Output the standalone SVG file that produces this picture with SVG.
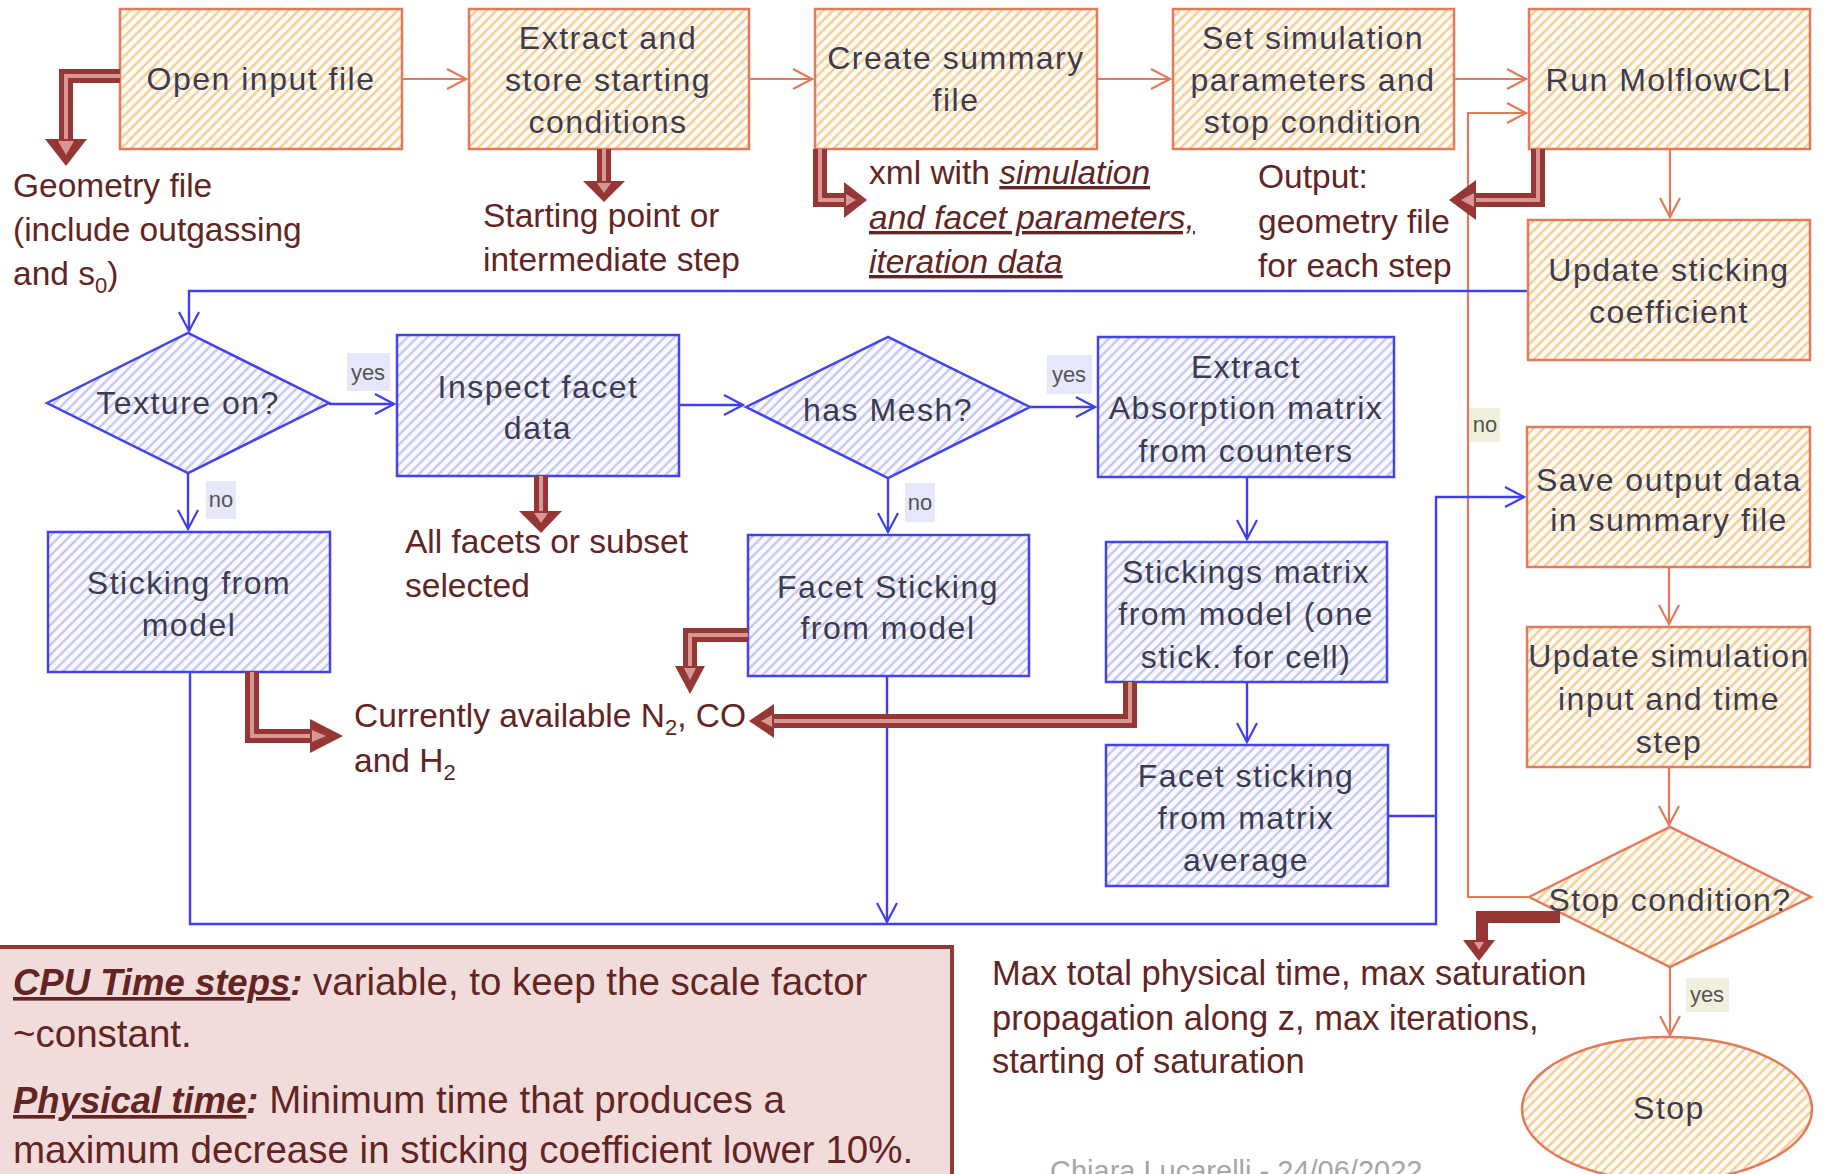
<svg xmlns="http://www.w3.org/2000/svg" width="1824" height="1174" viewBox="0 0 1824 1174">
<defs>
<pattern id="hO" width="7" height="7" patternUnits="userSpaceOnUse" patternTransform="rotate(45)">
<rect width="7" height="7" fill="#fffdf8"/>
<line x1="1.5" y1="0" x2="1.5" y2="7" stroke="#f6c78a" stroke-width="2.2"/>
</pattern>
<pattern id="hB" width="7" height="7" patternUnits="userSpaceOnUse" patternTransform="rotate(45)">
<rect width="7" height="7" fill="#fbfbff"/>
<line x1="1.5" y1="0" x2="1.5" y2="7" stroke="#b9bbf6" stroke-width="2"/>
</pattern>
<marker id="aO" viewBox="0 0 24 24" refX="22" refY="12" markerWidth="24" markerHeight="24" markerUnits="userSpaceOnUse" orient="auto">
<path d="M3,2 L22,12 L3,22" fill="none" stroke="#e57a5b" stroke-width="2.2"/>
</marker>
<marker id="aB" viewBox="0 0 24 24" refX="22" refY="12" markerWidth="24" markerHeight="24" markerUnits="userSpaceOnUse" orient="auto">
<path d="M3,2 L22,12 L3,22" fill="none" stroke="#3f3ff2" stroke-width="2.2"/>
</marker>
<style>
.no{fill:url(#hO);stroke:#e57a5b;stroke-width:2.5}
.nb{fill:url(#hB);stroke:#4343f0;stroke-width:2.5}
.t{font-family:"Liberation Sans",Arial,sans-serif;font-size:32px;fill:#3c3c4e;text-anchor:middle;letter-spacing:1.5px}
.co{fill:none;stroke:#e57a5b;stroke-width:2.2;marker-end:url(#aO)}
.cb{fill:none;stroke:#3f3ff2;stroke-width:2.4;marker-end:url(#aB)}
.cbn{fill:none;stroke:#3f3ff2;stroke-width:2.4}
.lab{font-family:"Liberation Sans",Arial,sans-serif;font-size:33.5px;fill:#632523}
.lab2{font-size:34.5px}
.big{font-family:"Liberation Sans",Arial,sans-serif;font-size:38.5px;fill:#632523}
.bi{font-weight:bold;font-style:italic;font-size:36.5px}
.iu{font-style:italic;text-decoration:underline}
.yn{font-family:"Liberation Sans",Arial,sans-serif;font-size:22px;fill:#555;text-anchor:middle}
.ybB{fill:#e6e7fb}
.ybO{fill:#f1f0dc}
.sh{fill:none;stroke:#953735;stroke-width:14;stroke-linejoin:miter}
.shi{fill:none;stroke:#d99694;stroke-width:4;stroke-linejoin:miter}
.hd{fill:#953735}
.hdi{fill:#d99694}
</style>
</defs>
<rect width="1824" height="1174" fill="#ffffff"/>

<g id="connectors">
<path class="co" d="M402,79 H466"/>
<path class="co" d="M749,79 H812"/>
<path class="co" d="M1097,79 H1170"/>
<path class="co" d="M1454,79 H1526"/>
<path class="co" d="M1529,897 H1468 V113 H1526"/>
<path class="co" d="M1670,149 V217"/>
<path class="co" d="M1669,567 V624"/>
<path class="co" d="M1669,767 V825"/>
<path class="co" d="M1670,967 V1035"/>
<path class="cb" d="M1528,291 H189 V331"/>
<path class="cb" d="M329,404 H394"/>
<path class="cb" d="M188,473 V529"/>
<path class="cb" d="M679,405 H743"/>
<path class="cb" d="M1030,407 H1095"/>
<path class="cb" d="M888,478 V532"/>
<path class="cb" d="M1247,477 V539"/>
<path class="cb" d="M1247,682 V742"/>
<path class="cb" d="M190,672 V924 H1436 V497 H1524"/>
<path class="cb" d="M887,676 V922"/>
<path class="cbn" d="M1388,816 H1436"/>
<rect class="ybB" x="347" y="353" width="43" height="38"/>
<text class="yn" x="368" y="380">yes</text>
<rect class="ybB" x="206" y="481" width="30" height="38"/>
<text class="yn" x="221" y="507">no</text>
<rect class="ybB" x="1047" y="355" width="45" height="39"/>
<text class="yn" x="1069" y="382">yes</text>
<rect class="ybB" x="905" y="483" width="30" height="39"/>
<text class="yn" x="920" y="510">no</text>
<rect class="ybO" x="1470" y="408" width="30" height="34"/>
<text class="yn" x="1485" y="432">no</text>
<rect class="ybO" x="1686" y="978" width="43" height="34"/>
<text class="yn" x="1707" y="1002">yes</text>
</g>

<g id="n1"><rect class="no" x="120" y="9" width="282" height="140"/><text class="t" x="261" y="90">Open input file</text></g>
<g id="n2"><rect class="no" x="469" y="9" width="280" height="140"/><text class="t" x="608" y="49">Extract and</text><text class="t" x="608" y="91">store starting</text><text class="t" x="608" y="133">conditions</text></g>
<g id="n3"><rect class="no" x="815" y="9" width="282" height="140"/><text class="t" x="956" y="69">Create summary</text><text class="t" x="956" y="111">file</text></g>
<g id="n4"><rect class="no" x="1173" y="9" width="281" height="140"/><text class="t" x="1313" y="49">Set simulation</text><text class="t" x="1313" y="91">parameters and</text><text class="t" x="1313" y="133">stop condition</text></g>
<g id="n5"><rect class="no" x="1529" y="9" width="281" height="140"/><text class="t" x="1669" y="91">Run MolflowCLI</text></g>
<g id="n6"><rect class="no" x="1528" y="220" width="282" height="140"/><text class="t" x="1669" y="281">Update sticking</text><text class="t" x="1669" y="323">coefficient</text></g>
<g id="n7"><rect class="no" x="1527" y="427" width="283" height="140"/><text class="t" x="1669" y="491">Save output data</text><text class="t" x="1669" y="531">in summary file</text></g>
<g id="n8"><rect class="no" x="1527" y="627" width="283" height="140"/><text class="t" x="1669" y="667">Update simulation</text><text class="t" x="1669" y="710">input and time</text><text class="t" x="1669" y="753">step</text></g>
<g id="n9"><polygon class="no" points="1529,897 1670,827 1811,897 1670,967"/><text class="t" x="1670" y="911">Stop condition?</text></g>
<g id="n10"><ellipse class="no" cx="1667" cy="1109" rx="145" ry="72"/><text class="t" x="1669" y="1119">Stop</text></g>

<g id="n11"><polygon class="nb" points="47,403 188,333 329,403 188,473"/><text class="t" x="188" y="414">Texture on?</text></g>
<g id="n12"><rect class="nb" x="397" y="335" width="282" height="141"/><text class="t" x="538" y="398">Inspect facet</text><text class="t" x="538" y="439">data</text></g>
<g id="n13"><polygon class="nb" points="746,407 888,337 1030,407 888,478"/><text class="t" x="888" y="421">has Mesh?</text></g>
<g id="n14"><rect class="nb" x="1098" y="337" width="296" height="140"/><text class="t" x="1246" y="378">Extract</text><text class="t" x="1246" y="419">Absorption matrix</text><text class="t" x="1246" y="462">from counters</text></g>
<g id="n15"><rect class="nb" x="1106" y="542" width="281" height="140"/><text class="t" x="1246" y="583">Stickings matrix</text><text class="t" x="1246" y="625">from model (one</text><text class="t" x="1246" y="668">stick. for cell)</text></g>
<g id="n16"><rect class="nb" x="1106" y="745" width="282" height="141"/><text class="t" x="1246" y="787">Facet sticking</text><text class="t" x="1246" y="829">from matrix</text><text class="t" x="1246" y="871">average</text></g>
<g id="n17"><rect class="nb" x="48" y="532" width="282" height="140"/><text class="t" x="189" y="594">Sticking from</text><text class="t" x="189" y="636">model</text></g>
<g id="n18"><rect class="nb" x="748" y="535" width="281" height="141"/><text class="t" x="888" y="598">Facet Sticking</text><text class="t" x="888" y="639">from model</text></g>

<g id="blockarrows">
<path class="sh" d="M120,76 H66 V140"/><path class="shi" d="M120,76 H66 V140"/>
<polygon class="hd" points="45,139 87,139 66,166"/><polygon class="hdi" points="58,141 74,141 66,155"/>
<path class="sh" d="M604,149 V182"/><path class="shi" d="M604,149 V182"/>
<polygon class="hd" points="583,181 625,181 604,202"/><polygon class="hdi" points="597,183 611,183 604,193"/>
<path class="sh" d="M820,149 V200 H845"/><path class="shi" d="M820,149 V200 H845"/>
<polygon class="hd" points="844,182 844,218 867,200"/><polygon class="hdi" points="846,194 846,206 856,200"/>
<path class="sh" d="M1538,149 V200 H1474"/><path class="shi" d="M1538,149 V200 H1474"/>
<polygon class="hd" points="1476,180 1476,220 1449,200"/><polygon class="hdi" points="1474,193 1474,207 1461,200"/>
<path class="sh" d="M541,476 V512"/><path class="shi" d="M541,476 V512"/>
<polygon class="hd" points="519,511 562,511 541,533"/><polygon class="hdi" points="534,513 548,513 541,523"/>
<path class="sh" d="M252,672 V736 H311"/><path class="shi" d="M252,672 V736 H311"/>
<polygon class="hd" points="310,719 310,753 343,736"/><polygon class="hdi" points="312,730 312,742 326,736"/>
<path class="sh" d="M748,635 H690 V667"/><path class="shi" d="M748,635 H690 V667"/>
<polygon class="hd" points="675,666 705,666 690,694"/><polygon class="hdi" points="684,668 696,668 690,680"/>
<path class="sh" d="M1130,682 V721 H773"/><path class="shi" d="M1130,682 V721 H773"/>
<polygon class="hd" points="774,704 774,738 749,721"/><polygon class="hdi" points="772,715 772,727 761,721"/>
<path class="sh" d="M1560,917 H1482 V942" style="stroke-width:12"/>
<polygon class="hd" points="1463,940 1495,940 1479,961"/><polygon class="hdi" points="1474,942 1484,942 1479,950"/>
</g>

<g id="labels">
<text class="lab" x="13" y="197">Geometry file</text>
<text class="lab" x="13" y="241">(include outgassing</text>
<text class="lab" x="13" y="285">and s<tspan font-size="22" dy="8">0</tspan><tspan dy="-8">)</tspan></text>
<text class="lab" x="483" y="227">Starting point or</text>
<text class="lab" x="483" y="271">intermediate step</text>
<text class="lab" x="869" y="184">xml with <tspan class="iu">simulation</tspan></text>
<text class="lab" x="869" y="229"><tspan class="iu">and facet parameters,</tspan></text>
<text class="lab" x="869" y="273"><tspan class="iu">iteration data</tspan></text>
<text class="lab" x="1258" y="188">Output:</text>
<text class="lab" x="1258" y="233">geometry file</text>
<text class="lab" x="1258" y="277">for each step</text>
<text class="lab" x="405" y="553">All facets or subset</text>
<text class="lab" x="405" y="597">selected</text>
<text class="lab" x="354" y="727">Currently available N<tspan font-size="22" dy="8">2</tspan><tspan dy="-8">, CO</tspan></text>
<text class="lab" x="354" y="772">and H<tspan font-size="22" dy="8">2</tspan></text>
<text class="lab lab2" x="992" y="985">Max total physical time, max saturation</text>
<text class="lab lab2" x="992" y="1030">propagation along z, max iterations,</text>
<text class="lab lab2" x="992" y="1073">starting of saturation</text>
</g>

<g id="notes">
<rect x="-4" y="947" width="956" height="240" fill="#f2dcdb" stroke="#953735" stroke-width="4"/>
<text class="big" x="13" y="995"><tspan class="bi" text-decoration="underline">CPU Time steps</tspan><tspan class="bi">:</tspan> variable, to keep the scale factor</text>
<text class="big" x="13" y="1047">~constant.</text>
<text class="big" x="13" y="1113"><tspan class="bi" text-decoration="underline">Physical time</tspan><tspan class="bi">:</tspan> Minimum time that produces a</text>
<text class="big" x="13" y="1163">maximum decrease in sticking coefficient lower 10%.</text>
<text x="1050" y="1181" font-family="Liberation Sans, Arial, sans-serif" font-size="29" fill="#a6a6a6">Chiara Lucarelli - 24/06/2022</text>
</g>
</svg>
